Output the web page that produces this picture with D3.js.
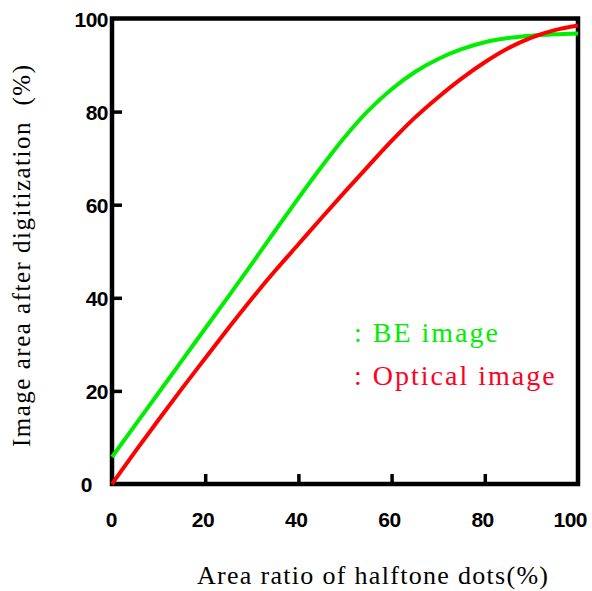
<!DOCTYPE html>
<html>
<head>
<meta charset="utf-8">
<script src="https://cdn.jsdelivr.net/npm/d3@7"></script>
<style>
  body { margin: 0; background: #fff; }
</style>
</head>
<body>
<script>
// data
const dotRatio = [0, 5, 10, 15, 20, 25, 30, 35, 40, 45, 50, 55, 60, 65, 70, 75, 80, 85, 90, 95, 100];
const beImage = [5.8, 12.7, 19.6, 26.5, 33.4, 40.3, 47.3, 54.4, 61.4, 68.2, 74.6, 80.2, 84.8, 88.5, 91.3, 93.4, 94.9, 95.8, 96.3, 96.6, 96.8];
const opticalImage = [0, 7, 13.8, 20.5, 27, 33.5, 39.8, 45.8, 51.5, 57.2, 62.8, 68.3, 73.7, 78.7, 83.1, 87.1, 90.6, 93.6, 95.9, 97.5, 98.5];
const tickValues = [0, 20, 40, 60, 80, 100];

const svg = d3.select("body").append("svg").attr("width", 592).attr("height", 591);

const x = d3.scaleLinear().domain([0, 100]).range([112, 578]);
const y = d3.scaleLinear().domain([0, 100]).range([484, 18.5]);

const serif = "Liberation Serif, Times New Roman, serif";
const sans = "Liberation Sans, Arial, sans-serif";

/* ** AXES (inside ticks) ** */
svg.append("g").attr("transform", "translate(0,484)")
  .call(d3.axisBottom(x).tickValues([20, 40, 60, 80]).tickSizeInner(-10).tickSizeOuter(0).tickFormat(""));
svg.append("g").attr("transform", "translate(112,0)")
  .call(d3.axisLeft(y).tickValues([20, 40, 60, 80]).tickSizeInner(-10).tickSizeOuter(0).tickFormat(""));
svg.selectAll(".domain").remove();
svg.selectAll(".tick line").attr("stroke", "#000").attr("stroke-width", 3.5);

// frame
svg.append("rect").attr("x", x(0)).attr("y", y(100))
  .attr("width", x(100) - x(0)).attr("height", y(0) - y(100))
  .attr("fill", "none").attr("stroke", "#000").attr("stroke-width", 4.5);

/* ** TICK LABELS ** */
svg.selectAll(".xlab").data(tickValues).enter().append("text")
  .attr("class", "xlab").text(d => d)
  .attr("x", d => x(d) + (d === 0 ? 5 : 9)).attr("y", 527)
  .attr("text-anchor", "end")
  .attr("font-family", sans).attr("font-weight", "bold")
  .attr("font-size", 21).attr("letter-spacing", -0.5);

svg.selectAll(".ylab").data(tickValues).enter().append("text")
  .attr("class", "ylab").text(d => d)
  .attr("x", d => d === 0 ? 92 : 108).attr("y", d => y(d) + 8)
  .attr("text-anchor", "end")
  .attr("font-family", sans).attr("font-weight", "bold")
  .attr("font-size", 21).attr("letter-spacing", -0.5);

/* ** AXIS TITLES ** */
svg.append("text").text("Area ratio of halftone dots(%)")
  .attr("x", 197).attr("y", 584)
  .attr("font-family", serif).attr("font-size", 26).attr("letter-spacing", 1.3);

svg.append("text").text("Image area after digitization  (%)")
  .attr("transform", "translate(30,447) rotate(-90)")
  .attr("xml:space", "preserve").style("white-space", "pre")
  .attr("font-family", serif).attr("font-size", 25).attr("letter-spacing", 1.5);

/* ** LINES ** */
const line = vals => d3.line()
  .x((d, i) => x(dotRatio[i]))
  .y(d => y(d))
  .curve(d3.curveMonotoneX)(vals);

svg.append("path").attr("d", line(beImage))
  .attr("fill", "none").attr("stroke", "#00ee00").attr("stroke-width", 4);
svg.append("path").attr("d", line(opticalImage))
  .attr("fill", "none").attr("stroke", "#ff0000").attr("stroke-width", 4);

/* ** LEGEND ** */
svg.append("text").text(": BE image").attr("x", 354).attr("y", 342)
  .attr("fill", "#00ee00").attr("xml:space", "preserve")
  .attr("font-family", serif).attr("font-size", 28).attr("letter-spacing", 2);
svg.append("text").text(": Optical image").attr("x", 354).attr("y", 385)
  .attr("fill", "#ff0022").attr("xml:space", "preserve")
  .attr("font-family", serif).attr("font-size", 28).attr("letter-spacing", 2);
</script>
</body>
</html>
